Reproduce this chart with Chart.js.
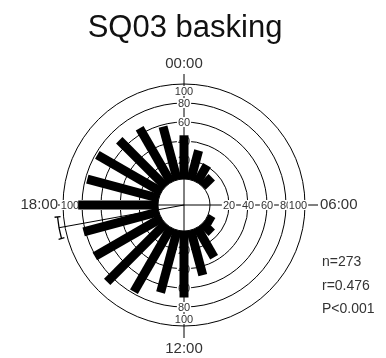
<!DOCTYPE html>
<html><head><meta charset="utf-8">
<script src="https://cdn.jsdelivr.net/npm/chart.js@4/dist/chart.umd.min.js"></script>
<style>html,body{margin:0;padding:0;background:#fff}#wrap{width:386px;height:358px;position:relative}</style>
</head><body><div id="wrap"><canvas id="c" width="386" height="358"></canvas></div>
<script>
// ---- data ----
const hourBins = [0,1,2,3,4,5,6,7,8,9,10,11,12,13,14,15,16,17,18,19,20,21,22,23];
const barValues = [46,32,21,14,0,0,0,0,8,14,36,49,70,68,78,87,81,82,84,78,78,69,66,58];
const ringTicks = [20,40,60,80,100];
const clockLabels = ['00:00','06:00','12:00','18:00'];
const clockAngles = [0,90,180,270];
const titleText = 'SQ03 basking';
const statsLines = ['n=273','r=0.476','P<0.001'];
const meanDirectionDeg = 259.7;
const ciDeg = [254.7, 264.6];

// ---- geometry helpers (scale units = px) ----
const HOLE = 26, K = 0.95, RMAX = 100;
const rad = v => HOLE + v * K;
const pt = (deg, r) => { const a = deg * Math.PI / 180; return {x: r * Math.sin(a), y: r * Math.cos(a)}; };
const FONT = '"Liberation Sans", Arial, sans-serif';

const barSets = hourBins.filter((h, i) => barValues[i] > 0).map(h => {
  const v = barValues[hourBins.indexOf(h)];
  return {data: [pt(h * 15, HOLE), pt(h * 15, rad(v))], showLine: true, borderColor: '#000',
    borderWidth: 9, borderCapStyle: 'butt', pointRadius: 0, clip: false};
});
const meanSet = {data: [pt(meanDirectionDeg, 0), pt(meanDirectionDeg, rad(RMAX) + 6)], showLine: true,
  borderColor: '#000', borderWidth: 1, pointRadius: 0, clip: false};

const deco = {
  id: 'deco',
  beforeDatasetsDraw(chart) {
    const {ctx, scales: {x, y}} = chart;
    const cx = x.getPixelForValue(0), cy = y.getPixelForValue(0);
    const px = r => x.getPixelForValue(r) - cx;
    ctx.save();
    ctx.strokeStyle = '#000'; ctx.lineWidth = 1;
    ringTicks.forEach(v => { ctx.beginPath(); ctx.arc(cx, cy, px(rad(v)), 0, 2 * Math.PI); ctx.stroke(); });
    ctx.beginPath(); ctx.arc(cx, cy, px(HOLE), 0, 2 * Math.PI); ctx.stroke();
    const R = px(rad(RMAX));
    ctx.beginPath();
    ctx.moveTo(cx, cy - R - 10); ctx.lineTo(cx, cy + R + 12);
    ctx.moveTo(cx - R - 5, cy); ctx.lineTo(cx + R + 13, cy);
    ctx.stroke();
    ctx.font = '11px ' + FONT; ctx.textAlign = 'center'; ctx.textBaseline = 'middle';
    ringTicks.forEach(v => {
      const r = v === RMAX ? px(rad(v)) - 7 : px(rad(v));
      const t = String(v), w = ctx.measureText(t).width;
      [[0, -1], [0, 1], [-1, 0], [1, 0]].forEach(([dx, dy]) => {
        const lx = cx + dx * r, ly = cy + dy * r;
        ctx.fillStyle = '#fff'; ctx.fillRect(lx - w / 2 - 1, ly - 5, w + 2, 10);
        ctx.fillStyle = '#333'; ctx.fillText(t, lx, ly + 0.5);
      });
    });
    ctx.font = '15px ' + FONT; ctx.fillStyle = '#333';
    clockLabels.forEach((t, i) => {
      const a = clockAngles[i];
      if (a === 0) { ctx.textAlign = 'center'; ctx.fillText(t, cx, cy - R - 20); }
      else if (a === 180) { ctx.textAlign = 'center'; ctx.fillText(t, cx, cy + R + 23); }
      else if (a === 90) { ctx.textAlign = 'left'; ctx.fillText(t, cx + R + 15, cy); }
      else { ctx.textAlign = 'right'; ctx.fillText(t, cx - R - 5, cy); }
    });
    ctx.restore();
  },
  afterDatasetsDraw(chart) {
    const {ctx, scales: {x, y}} = chart;
    const cx = x.getPixelForValue(0), cy = y.getPixelForValue(0);
    const px = r => x.getPixelForValue(r) - cx;
    ctx.save();
    ctx.strokeStyle = '#000'; ctx.lineWidth = 1.3;
    const r = px(rad(RMAX) + 6);
    const toCanvas = d => (d - 90) * Math.PI / 180;
    ctx.beginPath(); ctx.arc(cx, cy, r, toCanvas(ciDeg[0]), toCanvas(ciDeg[1])); ctx.stroke();
    ciDeg.forEach(d => {
      const a = d * Math.PI / 180;
      ctx.beginPath();
      ctx.moveTo(cx + (r - 3) * Math.sin(a), cy - (r - 3) * Math.cos(a));
      ctx.lineTo(cx + (r + 3) * Math.sin(a), cy - (r + 3) * Math.cos(a));
      ctx.stroke();
    });
    ctx.fillStyle = '#111'; ctx.textAlign = 'center'; ctx.textBaseline = 'alphabetic';
    ctx.font = '31px ' + FONT; ctx.fillText(titleText, 185, 37);
    ctx.font = '14px ' + FONT; ctx.textAlign = 'left'; ctx.fillStyle = '#333';
    statsLines.forEach((t, i) => ctx.fillText(t, 322, 266 + i * 23.5));
    ctx.restore();
  }
};

new Chart(document.getElementById('c'), {
  type: 'scatter',
  data: {datasets: [...barSets, meanSet]},
  options: {
    responsive: false, animation: false, devicePixelRatio: 1,
    layout: {padding: {left: 44, right: 62, top: 65, bottom: 13}},
    scales: {x: {type: 'linear', min: -140, max: 140, display: false},
             y: {type: 'linear', min: -140, max: 140, display: false}},
    plugins: {legend: {display: false}, tooltip: {enabled: false}, title: {display: false}}
  },
  plugins: [deco]
});
</script></body></html>
